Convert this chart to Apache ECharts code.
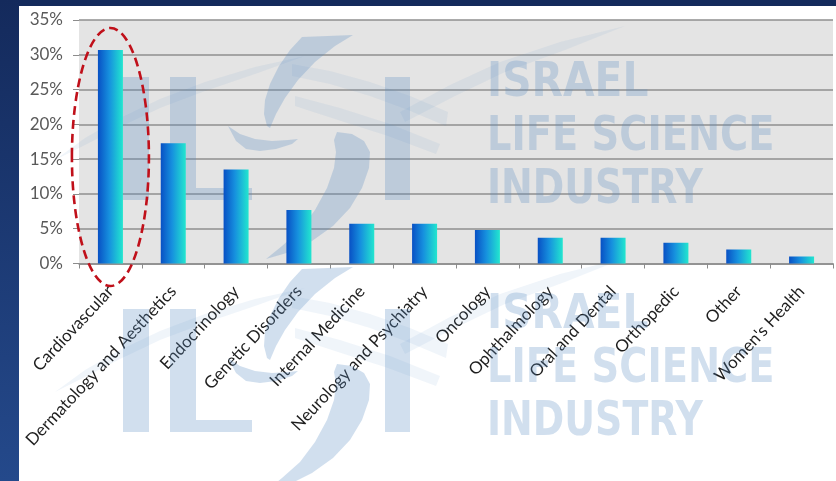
<!DOCTYPE html>
<html>
<head>
<meta charset="utf-8">
<script src="https://cdn.jsdelivr.net/npm/echarts@6/dist/echarts.min.js"></script>
<style>
  html, body { margin: 0; padding: 0; background: #ffffff; }
  #chart { width: 836px; height: 481px; }
</style>
</head>
<body>
<div id="chart"></div>
<script>
// Share of companies by therapeutic area (%)
const categories = [
  'Cardiovascular', 'Dermatology and Aesthetics', 'Endocrinology', 'Genetic Disorders',
  'Internal Medicine', 'Neurology and Psychiatry', 'Oncology', 'Ophthalmology',
  'Oral and Dental', 'Orthopedic', 'Other', "Women's Health"
];
const shares = [30.7, 17.3, 13.5, 7.7, 5.7, 5.7, 4.8, 3.7, 3.7, 3.0, 2.0, 1.0];
const yTicks = [0, 5, 10, 15, 20, 25, 30, 35];
const watermarkLines = ['ISRAEL', 'LIFE SCIENCE', 'INDUSTRY'];

const chart = echarts.init(document.getElementById('chart'), null, { renderer: 'canvas' });

const FONT = 'Lato, "Open Sans", sans-serif';
const wmStrong = 'rgba(90,140,195,0.28)';
const wmFaint = 'rgba(90,140,195,0.09)';

// One copy of the ILSI watermark (logo + wordmark); the group is shifted vertically.
function watermark(dy) {
  const lineY = [84, 138, 191];
  const lineScale = [0.85, 0.80, 0.79];
  const texts = watermarkLines.map((t, i) => ({
    type: 'text', x: 487, y: lineY[i], scaleX: lineScale[i], originX: 0, originY: 0, z: 1,
    style: { text: t, x: 0, y: 0, font: 'bold 48px "DejaVu Sans"', fill: wmStrong,
             textAlign: 'left', textVerticalAlign: 'middle' }
  }));
  const poly = (pts, fill) => ({ type: 'polygon', z: 1, shape: { points: pts }, style: { fill: fill } });
  return {
    type: 'group', x: 0, y: dy, z: 1, silent: true,
    children: [
      // faint orbit swooshes
      poly([[55,160],[85,138],[120,118],[160,99],[205,82],[255,67],[305,56],[255,74],[205,91],[160,108],[120,127],[85,145]], wmFaint),
      poly([[292,64],[330,71],[370,82],[410,96],[448,112],[446,126],[408,110],[370,96],[330,84],[292,76]], wmFaint),
      poly([[295,96],[340,108],[390,124],[440,144],[436,154],[388,136],[338,120],[295,106]], wmFaint),
      poly([[400,112],[450,85],[500,62],[560,42],[625,26],[565,50],[505,72],[455,96],[405,122]], wmFaint),
      // I L . I letters
      { type: 'rect', z: 1, shape: { x: 123, y: 77, width: 26, height: 123 }, style: { fill: wmStrong } },
      { type: 'rect', z: 1, shape: { x: 170, y: 77, width: 26, height: 111 }, style: { fill: wmStrong } },
      { type: 'rect', z: 1, shape: { x: 170, y: 188, width: 82, height: 12 }, style: { fill: wmStrong } },
      { type: 'rect', z: 1, shape: { x: 385, y: 77, width: 25, height: 123 }, style: { fill: wmStrong } },
      // S swoosh: upper stroke
      poly([[302,37],[290,50],[279,66],[270,84],[265,100],[264,114],[267,126],[270,128],
            [276,114],[285,98],[298,80],[315,62],[335,46],[353,35]], wmStrong),
      // thin crescent under the upper stroke
      poly([[228,126],[240,134],[255,139],[272,141],[288,140],[298,139],
            [292,144],[276,149],[260,151],[246,149],[236,141]], wmStrong),
      // lower crescent
      poly([[337,132],[352,134],[364,141],[370,152],[369,168],[362,188],[350,208],[333,226],[312,241],[290,252],[266,259],
            [282,246],[300,230],[315,210],[327,188],[334,168],[336,152],[334,140]], wmStrong)
    ].concat(texts)
  };
}

const option = {
  backgroundColor: '#ffffff',
  animation: false,
  grid: {
    left: 79, right: 3, top: 20, bottom: 217.5,
    show: true, backgroundColor: '#e4e4e4', borderWidth: 0,
    containLabel: false, outerBoundsMode: 'none'
  },
  xAxis: {
    type: 'category',
    data: categories,
    axisLine: { show: true, lineStyle: { color: '#8c8c8c', width: 1.5 } },
    axisTick: { show: true, alignWithLabel: false, length: 5, lineStyle: { color: '#8c8c8c', width: 1 } },
    axisLabel: {
      interval: 0, rotate: 47, margin: 25, hideOverlap: false,
      color: '#1e1e1e', fontFamily: FONT, fontSize: 17
    },
    splitLine: { show: false }
  },
  yAxis: {
    type: 'value',
    min: yTicks[0], max: yTicks[yTicks.length - 1], interval: yTicks[1] - yTicks[0],
    axisLine: { show: false },
    axisTick: { show: true, length: 6, lineStyle: { color: '#8c8c8c', width: 1 } },
    axisLabel: {
      margin: 16, color: '#595959', fontFamily: FONT, fontSize: 17,
      formatter: v => v + '%'
    },
    splitLine: { show: true, lineStyle: { color: '#8f8f8f', width: 1.6 } }
  },
  series: [{
    type: 'bar',
    data: shares,
    barWidth: 25,
    z: 2,
    itemStyle: {
      color: new echarts.graphic.LinearGradient(0, 0, 1, 0, [
        { offset: 0, color: '#0850c4' },
        { offset: 0.45, color: '#1690de' },
        { offset: 1, color: '#22e6cf' }
      ])
    },
    label: { show: false }
  }],
  graphic: { elements: [watermark(0), watermark(232)] }
};

chart.setOption(option);

// Dashed highlight around the leading category, plus the slide frame
const base = chart.convertToPixel({ xAxisIndex: 0, yAxisIndex: 0 }, [0, 0]);
chart.setOption({
  graphic: { elements: [
    watermark(0), watermark(232),
    {
      type: 'ellipse', z: 50, silent: true,
      shape: { cx: base[0], cy: 157, rx: 38.5, ry: 129 },
      style: { fill: 'none', stroke: '#c0101a', lineWidth: 2.6, lineDash: [9, 5] }
    },
    { type: 'rect', z: 100, silent: true, shape: { x: 0, y: 0, width: 836, height: 6 }, style: { fill: '#142a5c' } },
    {
      type: 'rect', z: 100, silent: true, shape: { x: 0, y: 0, width: 19, height: 481 },
      style: { fill: new echarts.graphic.LinearGradient(0, 0, 0, 1, [
        { offset: 0, color: '#142a5c' }, { offset: 1, color: '#24498b' }
      ]) }
    }
  ] }
}, { replaceMerge: ['graphic'] });
</script>
</body>
</html>
